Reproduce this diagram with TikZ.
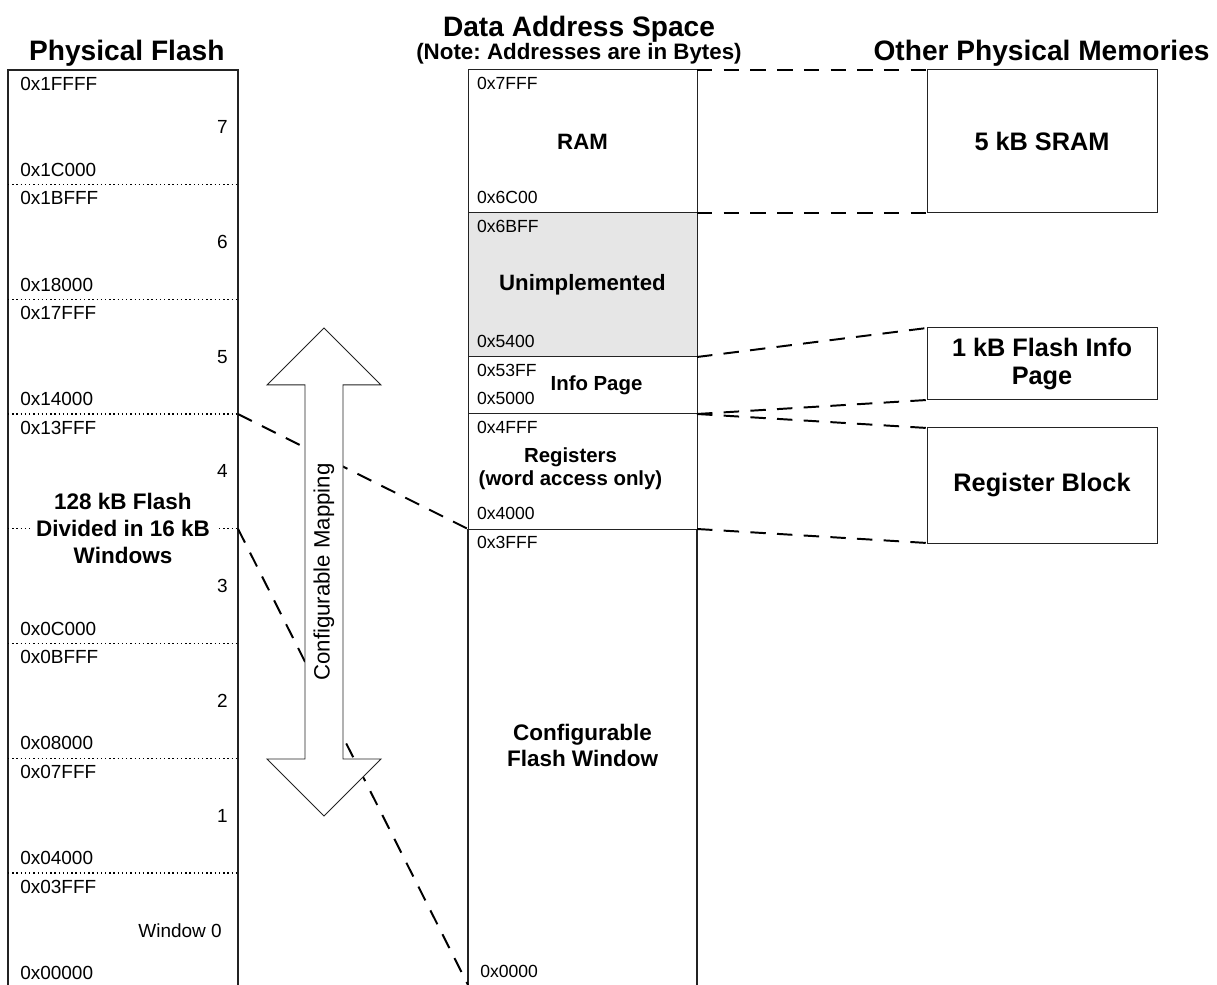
\documentclass[tikz,border=0pt]{standalone}
\usepackage{fontspec}
\setmainfont{Liberation Sans}
\usepackage{tikz}
\definecolor{unimplgray}{RGB}{230, 230, 230}
\definecolor{edgegray}{RGB}{35, 35, 35}
\usetikzlibrary{positioning, calc}

\begin{document}
\begin{tikzpicture}[
    title/.style={font=\bfseries\fontsize{20}{24}\selectfont, anchor=base, inner sep=0pt},
    window/.style={rectangle, minimum width=5.75cm, minimum height=2.8675cm, inner sep=0pt, outer sep=0pt},
    region/.style={rectangle, draw=edgegray, line width=0.7pt, minimum width=5.725cm, inner sep=0pt, outer sep=0pt, font=\bfseries\fontsize{15.8}{18}\selectfont, align=center},
    membox/.style={rectangle, draw=edgegray, line width=0.7pt, minimum width=5.75cm, inner sep=0pt, outer sep=0pt, font=\bfseries\fontsize{18}{20}\selectfont, align=center},
    flashaddr/.style={anchor=west, inner sep=0pt, font=\fontsize{13.5}{16}\selectfont},
    dataaddr/.style={anchor=west, inner sep=0pt, font=\fontsize{12.5}{15}\selectfont},
    winnum/.style={anchor=east, inner sep=0pt, font=\fontsize{13.5}{16}\selectfont},
    boldlbl/.style={font=\bfseries\fontsize{14.5}{16.5}\selectfont, align=center},
    winsep/.style={dash pattern=on 1pt off 2pt, line width=0.9pt},
    link/.style={dash pattern=on 11pt off 8pt, line width=1.4pt},
    colline/.style={draw=edgegray, line width=0.8pt},
    maparrow/.style={draw=edgegray, fill=white, line width=0.7pt}
]
    \useasboundingbox (0,0) rectangle (30.425,24.625);

    % Titles
    \node[title] (flashttl) at (3.17, 23.1) {Physical Flash};
    \node[title] (datattl) at (14.475, 23.72) {Data Address Space};
    \node[title, font=\bfseries\fontsize{15.9}{18}\selectfont] (notettl) at (14.475, 23.125) {(Note:\ Addresses are in Bytes)};
    \node[title] (otherttl) at (26.04, 23.1) {Other Physical Memories};

    % Data address space
    \node[region, minimum height=3.575cm] (ram) at (14.5625, 21.0875) {RAM};
    \node[region, fill=unimplgray, minimum height=3.6cm, below=0pt of ram] (unimpl) {Unimplemented};
    \node[region, minimum height=1.425cm, below=0pt of unimpl] (info) {};
    \node[region, minimum height=2.875cm, below=0pt of info] (regs) {};
    \node[region, draw=none, minimum height=11.4cm, below=0pt of regs] (fwin) {};
    \draw[colline] (fwin.north west) -- (fwin.south west) (fwin.north east) -- (fwin.south east);

    \node[dataaddr] (a7fff) at ([xshift=0.22cm, yshift=-0.33cm]ram.north west) {0x7FFF};
    \node[dataaddr] (a6c00) at ([xshift=0.22cm, yshift=0.38cm]ram.south west) {0x6C00};
    \node[dataaddr] (a6bff) at ([xshift=0.22cm, yshift=-0.33cm]unimpl.north west) {0x6BFF};
    \node[dataaddr] (a5400) at ([xshift=0.22cm, yshift=0.38cm]unimpl.south west) {0x5400};
    \node[dataaddr] (a53ff) at ([xshift=0.22cm, yshift=-0.33cm]info.north west) {0x53FF};
    \node[dataaddr] (a5000) at ([xshift=0.22cm, yshift=0.38cm]info.south west) {0x5000};
    \node[dataaddr] (a4fff) at ([xshift=0.22cm, yshift=-0.33cm]regs.north west) {0x4FFF};
    \node[dataaddr] (a4000) at ([xshift=0.22cm, yshift=0.38cm]regs.south west) {0x4000};
    \node[dataaddr] (a3fff) at ([xshift=0.22cm, yshift=-0.33cm]fwin.north west) {0x3FFF};
    \node[dataaddr] (a0000) at ([xshift=0.3cm, yshift=0.33cm]fwin.south west) {0x0000};

    \node[boldlbl] (infolbl) at ([xshift=0.35cm]info.center) {Info Page};
    \node[boldlbl] (regslbl) at ([xshift=-0.3cm, yshift=0.075cm]regs.center) {Registers\\(word access only)};
    \node[boldlbl, font=\bfseries\fontsize{16}{18.5}\selectfont] (fwinlbl) at (14.5625, 6.0) {Configurable\\Flash Window};

    % Physical flash, eight 16 kB windows
    \foreach \i in {0,...,7}
        \node[window] (w\i) at (3.075, 1.36875+2.8675*\i) {};
    \draw[colline] (w0.west |- fwin.south) -- (w7.north west) -- (w7.north east) -- (w0.east |- fwin.south);
    \foreach \i in {0,...,6}
        \draw[winsep] (w\i.north west) -- (w\i.north east);
    \foreach \i/\a in {7/1FFFF, 6/1BFFF, 5/17FFF, 4/13FFF, 2/0BFFF, 1/07FFF, 0/03FFF}
        \node[flashaddr] (hi\i) at ([xshift=0.3cm, yshift=-0.34cm]w\i.north west) {0x\a};
    \foreach \i/\a in {7/1C000, 6/18000, 5/14000, 3/0C000, 2/08000, 1/04000, 0/00000}
        \node[flashaddr] (lo\i) at ([xshift=0.3cm, yshift=0.37cm]w\i.south west) {0x\a};
    \foreach \i in {1,...,7}
        \node[winnum] (num\i) at ([xshift=-0.25cm]w\i.east) {\i};
    \node[winnum] (num0) at ([xshift=-0.4cm]w0.east) {Window 0};
    \node[fill=white, inner xsep=4pt, inner ysep=0pt, font=\bfseries\fontsize{16}{19.2}\selectfont, align=center] (flashlbl) at (w3.north) {128 kB Flash\\Divided in 16 kB\\Windows};

    % Other physical memories
    \node[membox, minimum height=3.575cm] (sram) at (26.05, 21.0875) {5 kB SRAM};
    \node[membox, minimum height=1.8cm] (finfo) at (26.05, 15.525) {1 kB Flash Info\\Page};
    \node[membox, minimum height=2.875cm] (regblk) at (26.05, 12.4875) {Register Block};

    % Mappings
    \draw[link] (ram.north east) -- (sram.north west);
    \draw[link] (ram.south east) -- (sram.south west);
    \draw[link] (info.north east) -- (finfo.north west);
    \draw[link] (info.south east) -- (finfo.south west);
    \draw[link] (info.south east) -- (regblk.north west);
    \draw[link] (regs.south east) -- (regblk.south west);
    \draw[link] (w4.north east) -- (regs.south west);
    \draw[link] (w4.south east) -- (fwin.south west);

    % Configurable mapping arrow
    \draw[maparrow] (8.1,16.425) -- (9.525,15) -- (8.575,15) -- (8.575,5.65) -- (9.525,5.65) -- (8.1,4.225)
        -- (6.675,5.65) -- (7.625,5.65) -- (7.625,15) -- (6.675,15) -- cycle;
    \node[rotate=90, inner sep=0pt, font=\fontsize{15.8}{18}\selectfont] (maplbl) at (8.1, 10.325) {Configurable Mapping};

\end{tikzpicture}
\end{document}
